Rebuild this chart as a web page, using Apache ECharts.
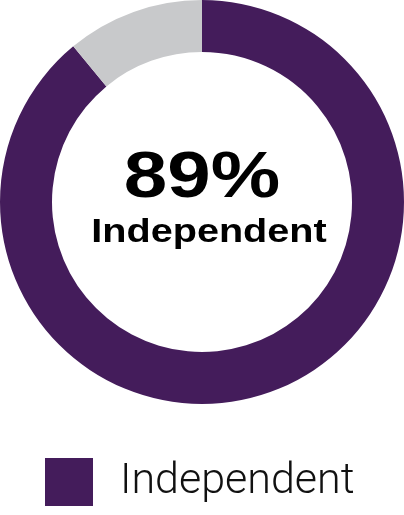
<!DOCTYPE html>
<html>
<head>
<meta charset="utf-8">
<script src="https://cdn.jsdelivr.net/npm/echarts@6/dist/echarts.min.js"></script>
<style>
  html, body { margin: 0; padding: 0; background: #ffffff; }
  #chart { width: 404px; height: 515px; }
</style>
</head>
<body>
<div id="chart"></div>
<script>
// Data
const categories = ['Independent', 'Other'];
const values = [89, 11];
const colors = ['#441c5b', '#c8c9cb'];
const centerValueText = '89%';
const centerLabelText = 'Independent';

const chart = echarts.init(document.getElementById('chart'), null, { renderer: 'canvas' });

chart.setOption({
  animation: false,
  backgroundColor: '#ffffff',
  legend: {
    data: [categories[0]],
    left: 40,
    top: 453,
    icon: 'rect',
    itemWidth: 48,
    itemHeight: 48,
    selectedMode: false,
    textStyle: {
      fontFamily: 'Roboto',
      fontWeight: 300,
      fontSize: 43,
      color: '#111111',
      padding: [0, 0, 0, 22]
    }
  },
  graphic: [
    {
      type: 'text',
      x: 202,
      y: 147,
      scaleX: 1.22,
      style: {
        text: centerValueText,
        font: 'bold 64px "Liberation Sans", Arial, sans-serif',
        fill: '#000000',
        textAlign: 'center',
        textVerticalAlign: 'top'
      }
    },
    {
      type: 'text',
      x: 209,
      y: 216,
      scaleX: 1.2,
      style: {
        text: centerLabelText,
        font: 'bold 33px "Liberation Sans", Arial, sans-serif',
        fill: '#000000',
        textAlign: 'center',
        textVerticalAlign: 'top'
      }
    }
  ],
  series: [
    {
      type: 'pie',
      center: [202, 202],
      radius: [150, 202],
      startAngle: 90,
      clockwise: true,
      silent: true,
      label: { show: false },
      labelLine: { show: false },
      emphasis: { disabled: true },
      itemStyle: { borderWidth: 0 },
      data: categories.map((c, i) => ({
        name: c,
        value: values[i],
        itemStyle: { color: colors[i] }
      }))
    }
  ]
});
</script>
</body>
</html>
